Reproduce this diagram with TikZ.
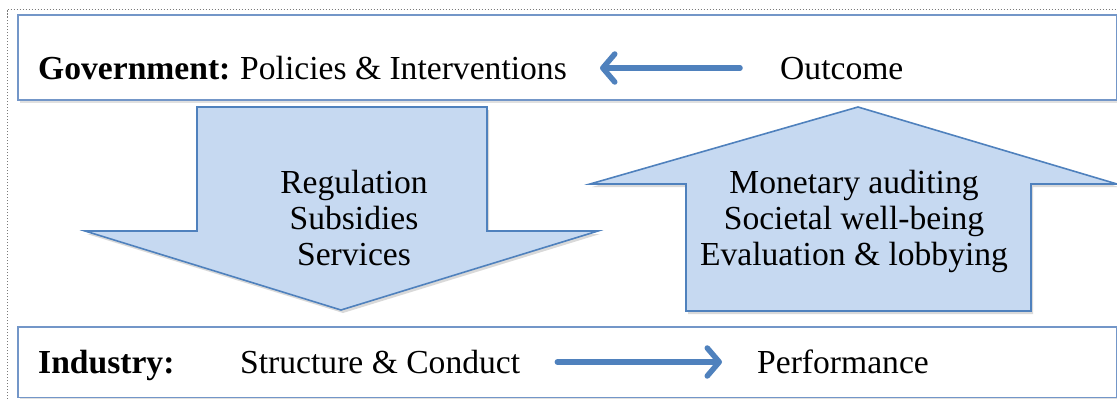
\documentclass[tikz,border=0pt]{standalone}
\usepackage{fontspec}
\setmainfont{Liberation Serif}
\usetikzlibrary{arrows.meta,shadows}
\definecolor{accent}{HTML}{4F81BD}
\definecolor{boxline}{HTML}{7396C8}
\definecolor{arrowfill}{HTML}{C6D9F1}
\definecolor{frame}{HTML}{7A7A7A}
\begin{document}
\begin{tikzpicture}[x=1pt,y=-1pt,
  txt/.style={font=\fontsize{33.6}{36}\selectfont, inner sep=0pt},
  bigarrow/.style={fill=arrowfill, draw=accent, line width=1.6pt, line join=miter,
    drop shadow={shadow xshift=2pt, shadow yshift=-3pt, opacity=0.15, fill=black}},
  rowbox/.style={fill=white, draw=boxline, line width=1.6pt,
    drop shadow={shadow xshift=2pt, shadow yshift=-3pt, opacity=0.12, fill=black}},
  flow/.style={draw=accent, line width=5.5pt, line cap=round,
    -{Straight Barb[length=12pt,width=28pt,round]}}
]
\useasboundingbox (0,0) rectangle (1117,399);
% dotted frame
\draw[frame, line width=0.8pt, dash pattern=on 1.5pt off 1.5pt] (7,399) -- (7,9.5) -- (1117,9.5);

% row boxes
\path[rowbox] (18,15) rectangle (1116.5,100);
\path[rowbox] (18,327) rectangle (1116.5,397.5);

% big arrows
\path[bigarrow] (197,107) -- (487,107) -- (487,231) -- (598,231) -- (341,310)
  -- (85,231) -- (197,231) -- cycle;
\path[bigarrow] (686,311) -- (686,184) -- (590,184) -- (858,107) -- (1117,184)
  -- (1031,184) -- (1031,311) -- cycle;

% top row
\node[txt, anchor=base west] (gov) at (38,79) {\bfseries Government:};
\node[txt, anchor=base west] (pol) at (240,79) {Policies \& Interventions};
\node[txt, anchor=base west] (out) at (780,79) {Outcome};
\draw[flow, shorten <=40pt, shorten >=33pt] (out.west |- 0,68) -- (pol.east |- 0,68);

% bottom row
\node[txt, anchor=base west] (ind) at (38,373) {\bfseries Industry:};
\node[txt, anchor=base west] (sc) at (240,373) {Structure \& Conduct};
\node[txt, anchor=base west] (perf) at (757,373) {Performance};
\draw[flow, shorten <=37pt, shorten >=35pt] (sc.east |- 0,362) -- (perf.west |- 0,362);

% down arrow text
\node[txt, anchor=base] (d1) at (354,193) {Regulation};
\node[txt, anchor=base] (d2) at (354,229) {Subsidies};
\node[txt, anchor=base] (d3) at (354,265) {Services};

% up arrow text
\node[txt, anchor=base] (u1) at (854,193) {Monetary auditing};
\node[txt, anchor=base] (u2) at (854,229) {Societal well-being};
\node[txt, anchor=base] (u3) at (854,265) {Evaluation \& lobbying};
\end{tikzpicture}
\end{document}
